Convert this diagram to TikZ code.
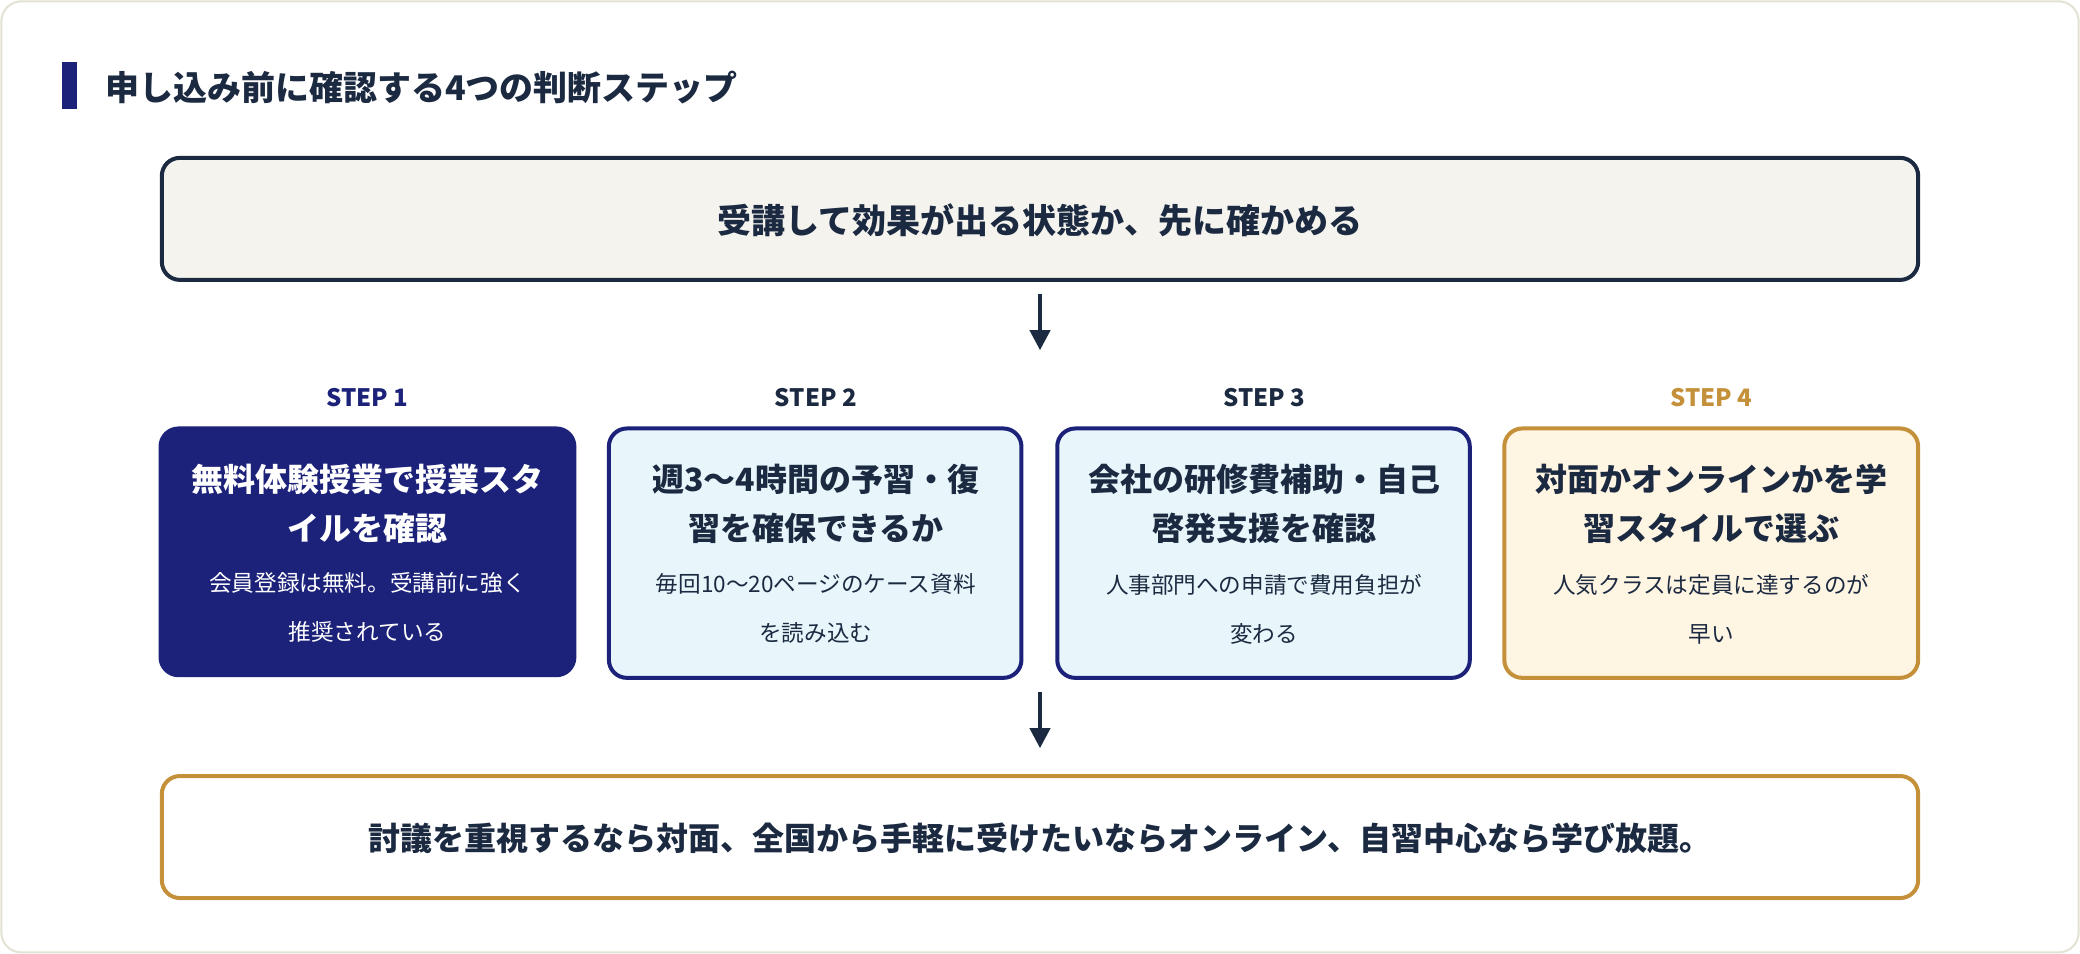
\documentclass[tikz,border=0pt]{standalone}
\usepackage{fontspec}
\setmainfont{Noto Sans CJK JP}
\usetikzlibrary{arrows.meta}
\definecolor{navy}{HTML}{1B2A41}
\definecolor{indigo}{HTML}{1C2279}
\definecolor{gold}{HTML}{C4913A}
\definecolor{pale}{HTML}{F5F3EE}
\definecolor{sky}{HTML}{E8F6FB}
\definecolor{cream}{HTML}{FFF5E3}
\definecolor{frame}{HTML}{E4E2D4}
\begin{document}
\begin{tikzpicture}[x=0.6633pt,y=-0.6633pt,
  box/.style={draw,line width=2pt,rounded corners=9pt,inner sep=0pt},
  steplbl/.style={font=\bfseries\fontsize{12}{14}\selectfont},
  ttl/.style={font=\bfseries\fontsize{16}{24.5}\selectfont,align=center},
  sub/.style={font=\fontsize{11.3}{24.5}\selectfont,align=center},
  arr/.style={-{Triangle[length=10pt,width=10pt]},line width=2pt,draw=navy}]
\useasboundingbox (0,0) rectangle (1568,719);
\draw[frame,line width=1pt,fill=white,rounded corners=10pt] (1,1) rectangle (1567,718);
\fill[indigo] (47,47) rectangle (58,82);
\node[anchor=west,text=navy,font=\bfseries\fontsize{17}{20}\selectfont] (title) at (74,66) {申し込み前に確認する4つの判断ステップ};
\draw[box,draw=navy,fill=pale] (122,119) rectangle (1446,211);
\node[text=navy,font=\bfseries\fontsize{17}{20}\selectfont] (top) at (784,166) {受講して効果が出る状態か、先に確かめる};
\coordinate (a1) at (784,222); \coordinate (a2) at (784,264);
\draw[arr] (a1) -- (a2);
% steps
\node[steplbl,text=indigo] (s1) at (277,300) {STEP 1};
\node[steplbl,text=navy] (s2) at (615,300) {STEP 2};
\node[steplbl,text=navy] (s3) at (953,300) {STEP 3};
\node[steplbl,text=gold] (s4) at (1290,300) {STEP 4};
\draw[box,draw=indigo,fill=indigo] (121,323) rectangle (433,509);
\draw[box,draw=indigo,fill=sky] (459,323) rectangle (770,511);
\draw[box,draw=indigo,fill=sky] (797,323) rectangle (1108,511);
\draw[box,draw=gold,fill=cream] (1134,323) rectangle (1446,511);
\node[ttl,text=white] (t1) at (277,380) {無料体験授業で授業スタ\\イルを確認};
\node[sub,text=white] (u1) at (277,458) {会員登録は無料。受講前に強く\\推奨されている};
\node[ttl,text=navy] (t2) at (615,380) {週3〜4時間の予習・復\\習を確保できるか};
\node[sub,text=navy] (u2) at (615,459) {毎回10〜20ページのケース資料\\を読み込む};
\node[ttl,text=navy] (t3) at (953,380) {会社の研修費補助・自己\\啓発支援を確認};
\node[sub,text=navy] (u3) at (953,459) {人事部門への申請で費用負担が\\変わる};
\node[ttl,text=navy] (t4) at (1290,380) {対面かオンラインかを学\\習スタイルで選ぶ};
\node[sub,text=navy] (u4) at (1290,459) {人気クラスは定員に達するのが\\早い};
\coordinate (b1) at (784,522); \coordinate (b2) at (784,564);
\draw[arr] (b1) -- (b2);
\draw[box,draw=gold,fill=white] (122,585) rectangle (1446,677);
\node[text=navy,font=\bfseries\fontsize{16}{20}\selectfont] (bot) at (784,632) {討議を重視するなら対面、全国から手軽に受けたいならオンライン、自習中心なら学び放題。};
\end{tikzpicture}
\end{document}
